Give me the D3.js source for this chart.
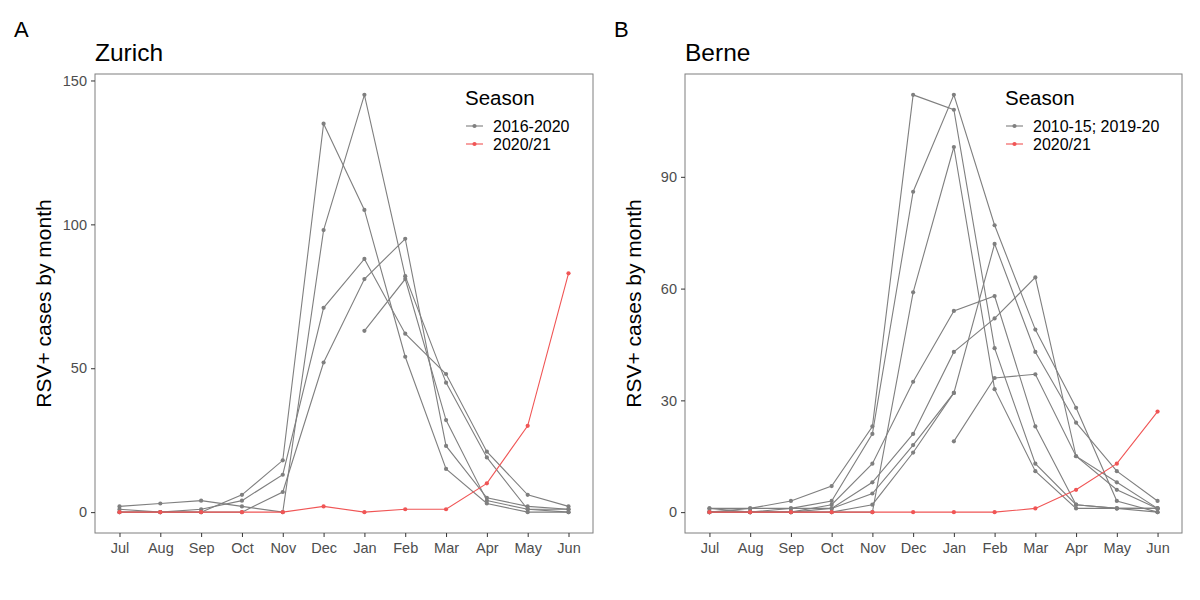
<!DOCTYPE html>
<html>
<head>
<meta charset="utf-8">
<script src="https://cdn.jsdelivr.net/npm/d3@7"></script>
<style>
  body { margin: 0; background: #fff; }
  svg { font-family: "Liberation Sans", Arial, sans-serif; }
</style>
</head>
<body>
<svg id="chart" width="1200" height="600"></svg>
<script>
const months = ["Jul", "Aug", "Sep", "Oct", "Nov", "Dec", "Jan", "Feb", "Mar", "Apr", "May", "Jun"];

// Zurich, earlier seasons (null = no data that month)
const zurichGrey = [
  [0, 0, 0, 6, 18, 135, 105, 54, 15, 3, 0, 0],
  [2, 3, 4, 2, 0, 98, 145, 82, 45, 19, 1, 1],
  [1, 0, 1, 4, 13, 71, 88, 62, 48, 21, 6, 2],
  [0, 0, 0, 0, 7, 52, 81, 95, 23, 5, 2, 1],
  [null, null, null, null, null, null, 63, 81, 32, 4, 1, 0]
];
const zurichRed = [0, 0, 0, 0, 0, 2, 0, 1, 1, 10, 30, 83];
const zurichTicks = [0, 50, 100, 150];

// Berne, earlier seasons
const berneGrey = [
  [1, 1, 3, 7, 23, 112, 108, 44, 13, 2, 1, 1],
  [0, 0, 1, 3, 21, 86, 112, 77, 49, 28, 3, 0],
  [0, 0, 0, 0, 0, 59, 98, 33, 11, 1, 1, 0],
  [1, 0, 0, 2, 13, 35, 54, 58, 23, 2, 1, 1],
  [0, 1, 1, 1, 8, 21, 43, 52, 63, 15, 8, 1],
  [0, 0, 0, 1, 5, 18, 32, 72, 43, 24, 11, 3],
  [0, 0, 0, 0, 2, 16, 32, null, null, null, null, null],
  [null, null, null, null, null, null, 19, 36, 37, 15, 6, 1]
];
const berneRed = [0, 0, 0, 0, 0, 0, 0, 0, 1, 6, 13, 27];
const berneTicks = [0, 30, 60, 90];

const greyCol = "#7f7f7f";
const redCol = "#f05555";
const textCol = "#4d4d4d";

const svg = d3.select("#chart");

function drawPanel(opt) {
  const g = svg.append("g");
  const left = opt.left, right = opt.right, top = 74, bottom = 533;

  const allVals = opt.grey.flat().concat(opt.red).filter(v => v != null);
  const maxV = d3.max(allVals);
  const pad = maxV * 0.05;

  const x = d3.scalePoint().domain(months).range([left, right]).padding(0.6);
  const y = d3.scaleLinear().domain([-pad, maxV + pad]).range([bottom, top]);

  // panel border
  g.append("rect")
    .attr("x", left).attr("y", top)
    .attr("width", right - left).attr("height", bottom - top)
    .attr("fill", "none").attr("stroke", greyCol).attr("stroke-width", 1);

  // axes
  const yAxis = g.append("g")
    .attr("transform", `translate(${left},0)`)
    .call(d3.axisLeft(y).tickValues(opt.ticks).tickSize(4).tickPadding(4));
  const xAxis = g.append("g")
    .attr("transform", `translate(0,${bottom})`)
    .call(d3.axisBottom(x).tickSize(4).tickPadding(6));
  [yAxis, xAxis].forEach(a => {
    a.select(".domain").remove();
    a.selectAll(".tick line").attr("stroke", "#333");
    a.selectAll(".tick text").attr("fill", textCol).style("font-size", "14.5px");
  });

  const line = d3.line()
    .defined(d => d != null)
    .x((d, i) => x(months[i]))
    .y(d => y(d));

  function series(values, colour) {
    g.append("path")
      .datum(values)
      .attr("d", line)
      .attr("fill", "none")
      .attr("stroke", colour)
      .attr("stroke-width", 1.1);
    g.selectAll(null)
      .data(values.map((v, i) => ({ v, m: months[i] })).filter(d => d.v != null))
      .enter()
      .append("circle")
      .attr("cx", d => x(d.m))
      .attr("cy", d => y(d.v))
      .attr("r", 2.1)
      .attr("fill", colour);
  }

  opt.grey.forEach(s => series(s, greyCol));
  series(opt.red, redCol);

  // titles
  g.append("text")
    .attr("x", opt.tagX).attr("y", 37)
    .style("font-size", "22px").attr("fill", "#000")
    .text(opt.tag);
  g.append("text")
    .attr("x", left).attr("y", 61)
    .style("font-size", "24.5px").attr("fill", "#000")
    .text(opt.title);
  g.append("text")
    .attr("transform", `translate(${left - 44},${(top + bottom) / 2}) rotate(-90)`)
    .attr("text-anchor", "middle")
    .style("font-size", "21px").attr("fill", "#000")
    .text("RSV+ cases by month");

  // legend
  const lg = g.append("g").attr("transform", `translate(${opt.legX},0)`);
  lg.append("text")
    .attr("x", 0).attr("y", 105)
    .style("font-size", "20.5px").attr("fill", "#000")
    .text("Season");
  opt.legend.forEach((lab, i) => {
    const cy = 126 + i * 18;
    const col = i === 0 ? greyCol : redCol;
    lg.append("line")
      .attr("x1", 1).attr("x2", 18).attr("y1", cy).attr("y2", cy)
      .attr("stroke", col).attr("stroke-width", 1.1);
    lg.append("circle").attr("cx", 9.5).attr("cy", cy).attr("r", 2.1).attr("fill", col);
    lg.append("text")
      .attr("x", 28).attr("y", cy + 5.5)
      .style("font-size", "16px").attr("fill", "#000")
      .text(lab);
  });
}

drawPanel({
  left: 95, right: 593, grey: zurichGrey, red: zurichRed, ticks: zurichTicks,
  tag: "A", tagX: 14, title: "Zurich", legX: 465,
  legend: ["2016-2020", "2020/21"]
});

drawPanel({
  left: 685, right: 1182, grey: berneGrey, red: berneRed, ticks: berneTicks,
  tag: "B", tagX: 614, title: "Berne", legX: 1005,
  legend: ["2010-15; 2019-20", "2020/21"]
});
</script>
</body>
</html>
